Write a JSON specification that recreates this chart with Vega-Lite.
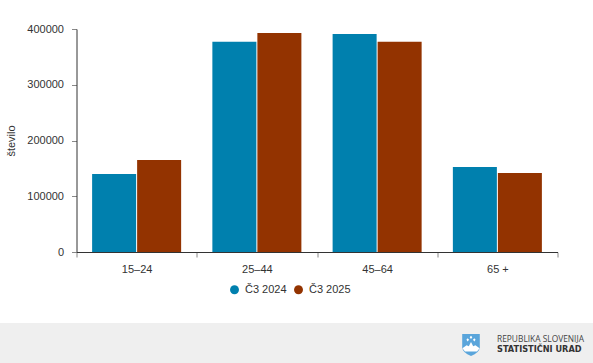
{
"$schema":"https://vega.github.io/schema/vega-lite/v6.json",
"width":481,"height":223,
"autosize":"none",
"padding":{"left":76.5,"top":29,"right":35.5,"bottom":111},
"background":"#ffffff",
"config":{"view":{"stroke":null},"font":"Liberation Sans"},
"resolve":{"scale":{"x":"independent"}},
"layer":[
{"data":{"values":[{"x0":-76.5,"x1":516.5,"y0":-127354,"y1":-199103}]},
"mark":{"type":"rect","color":"#efefef","clip":false},
"encoding":{
"x":{"field":"x0","type":"quantitative","scale":{"domain":[0,481],"nice":false,"zero":false},"axis":null},
"x2":{"field":"x1"},
"y":{"field":"y0","type":"quantitative","scale":{"domain":[0,400000]}},
"y2":{"field":"y1"}}},
{"data":{"values":[
{"group":"15–24","period":"Č3 2024","value":140000},
{"group":"15–24","period":"Č3 2025","value":165000},
{"group":"25–44","period":"Č3 2024","value":377000},
{"group":"25–44","period":"Č3 2025","value":393000},
{"group":"45–64","period":"Č3 2024","value":391000},
{"group":"45–64","period":"Č3 2025","value":377000},
{"group":"65 +","period":"Č3 2024","value":152500},
{"group":"65 +","period":"Č3 2025","value":141500}]},
"mark":{"type":"bar"},
"encoding":{
"x":{"field":"group","type":"nominal","sort":null,"title":null,
"scale":{"paddingInner":0,"paddingOuter":0},
"axis":{"labelAngle":0,"labelFont":"Liberation Sans","labelFontSize":11,"labelColor":"#333333","labelPadding":6,"tickBand":"extent","tickColor":"#888888","tickSize":5,"domainColor":"#333333","domainWidth":1,"grid":false,"zindex":1}},
"xOffset":{"field":"period","type":"nominal","sort":null,"scale":{"paddingInner":0.022,"paddingOuter":0.347}},
"y":{"field":"value","type":"quantitative","title":"število",
"scale":{"domain":[0,400000],"nice":false},
"axis":{"values":[0,100000,200000,300000,400000],"format":"d","labelFont":"Liberation Sans","labelFontSize":11,"labelColor":"#333333","labelPadding":8,"tickColor":"#888888","tickSize":5,"domainColor":"#333333","domainWidth":1,"grid":false,"zindex":1,"titleFont":"Liberation Sans","titleFontSize":11,"titleFontWeight":"normal","titleColor":"#333333","titlePadding":10}},
"color":{"field":"period","type":"nominal","sort":null,
"scale":{"domain":["Č3 2024","Č3 2025"],"range":["#0080AE","#933300"]},
"legend":{"title":null,"orient":"none","legendX":152.5,"legendY":255,"direction":"horizontal","symbolType":"circle","symbolSize":80,"symbolStrokeWidth":0,"labelFont":"Liberation Sans","labelFontSize":11,"labelColor":"#333333","labelOffset":5,"columnPadding":6}}
}},
{"data":{"values":[{"x":394.5,"y":-166814}]},
"mark":{"type":"point","filled":true,"opacity":1,"color":"#5AA5DB","size":484,"shape":"M-0.8,-1 L0.8,-1 L0.8,0.25 Q0.75,0.7 0,1 Q-0.75,0.7 -0.8,0.25 Z"},
"encoding":{
"x":{"field":"x","type":"quantitative","scale":{"domain":[0,481],"nice":false,"zero":false},"axis":null},
"y":{"field":"y","type":"quantitative","scale":{"domain":[0,400000]}}}},
{"data":{"values":[{"x":394.5,"y":-166814}]},
"mark":{"type":"point","filled":true,"opacity":1,"color":"#ffffff","size":484,"shape":"M-0.78,0.3 L-0.4,0.02 L-0.2,0.12 L0,-0.28 L0.2,0.12 L0.4,0.02 L0.78,0.3 L0.55,0.6 L-0.55,0.6 Z M0,-0.85 L0.12,-0.7 L0,-0.55 L-0.12,-0.7 Z M-0.3,-0.62 L-0.18,-0.47 L-0.3,-0.32 L-0.42,-0.47 Z M0.3,-0.62 L0.42,-0.47 L0.3,-0.32 L0.18,-0.47 Z"},
"encoding":{
"x":{"field":"x","type":"quantitative","scale":{"domain":[0,481],"nice":false,"zero":false},"axis":null},
"y":{"field":"y","type":"quantitative","scale":{"domain":[0,400000]}}}},
{"data":{"values":[{"x":420.5,"y":-156768,"t":"REPUBLIKA SLOVENIJA"}]},
"mark":{"type":"text","align":"left","baseline":"middle","font":"Open Sans","fontSize":8.4,"color":"#444444"},
"encoding":{
"x":{"field":"x","type":"quantitative","scale":{"domain":[0,481],"nice":false,"zero":false},"axis":null},
"y":{"field":"y","type":"quantitative","scale":{"domain":[0,400000]}},
"text":{"field":"t"}}},
{"data":{"values":[{"x":420.5,"y":-175245,"t":"STATISTIČNI URAD"}]},
"mark":{"type":"text","align":"left","baseline":"middle","font":"DejaVu Sans","fontWeight":"bold","fontSize":8.2,"color":"#333333"},
"encoding":{
"x":{"field":"x","type":"quantitative","scale":{"domain":[0,481],"nice":false,"zero":false},"axis":null},
"y":{"field":"y","type":"quantitative","scale":{"domain":[0,400000]}},
"text":{"field":"t"}}}
]
}
